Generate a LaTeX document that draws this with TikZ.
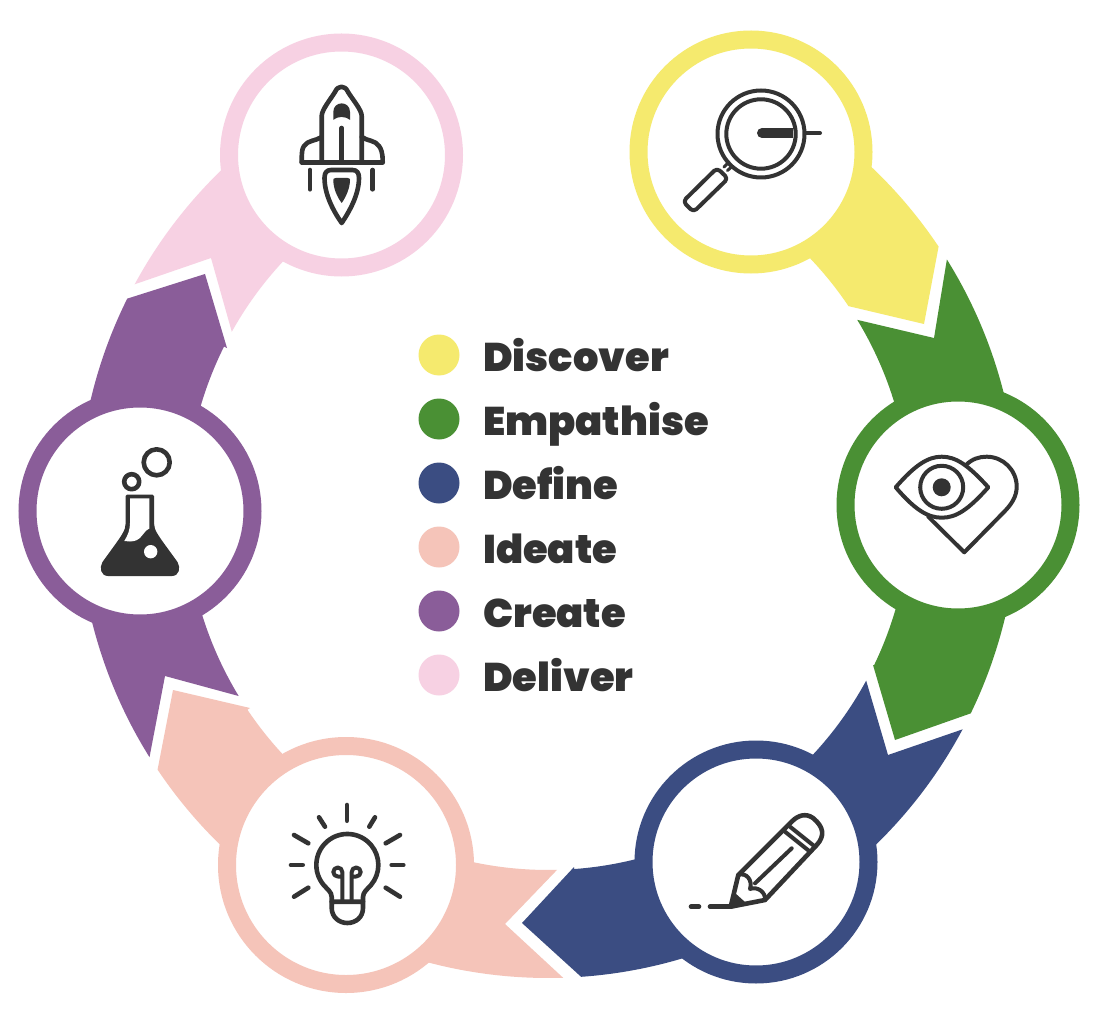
\documentclass[tikz,border=0pt]{standalone}
\usepackage{fontspec}
\setmainfont{Poppins}[BoldFont={Poppins Black}]
\definecolor{cyel}{HTML}{F5EA6E}
\definecolor{cgrn}{HTML}{4A9034}
\definecolor{cblu}{HTML}{3B4D82}
\definecolor{cpea}{HTML}{F5C4B9}
\definecolor{cpur}{HTML}{8A5D99}
\definecolor{cpin}{HTML}{F7D1E3}
\definecolor{ink}{HTML}{333333}
\tikzset{
  ringdisc/.style={circle,draw=#1,line width=18pt,fill=white,minimum size=225pt,inner sep=0pt,outer sep=0pt},
  legdot/.style={circle,fill=#1,minimum size=41pt,inner sep=0pt,outer sep=0pt},
  legtext/.style={anchor=base west,inner sep=0pt,text=ink,font=\fontsize{40}{40}\selectfont\bfseries},
  icon/.style={draw=ink,line width=4.6pt,line cap=round,line join=round},
  thinicon/.style={draw=ink,line width=4pt,line cap=round,line join=round},
  iconfill/.style={fill=ink,draw=none}
}
\def\ptang(#1,#2)#3{\pgfmathsetmacro#3{atan2(#2-508,#1-548)}}
\newcommand\ringseg[7]{\ptang#2\oa \ptang#3\ob \ptang#5\ia \ptang#6\ib
  \fill[#1] ([shift={(\oa:470)}]c) arc[start angle=\oa,end angle=\ob,radius=470] -- #4 -- ([shift={(\ia:362)}]c) arc[start angle=\ia,end angle=\ib,radius=362] #7 -- cycle;}
\begin{document}
\begin{tikzpicture}[x=1pt,y=-1pt]
\useasboundingbox (0,0) rectangle (1100,1024);
\fill[white] (0,0) rectangle (1100,1024);
\coordinate (c) at (548,508);
% ring segments
\ringseg{cyel}{(862,160)}{(938,247)}{(924,324)--(848,306)}{(848,306)}{(800,248)}{}
\ringseg{cgrn}{(946,260)}{(1010,410)}{(950,420)}{(895,415)}{(857,320)}{--(934,338)}
\ringseg{cgrn}{(1010,600)}{(970,713)}{(895,740)--(873,665)}{(873,665)}{(895,600)}{}
\ringseg{cblu}{(962,729)}{(870,850)}{(830,800)}{(800,745)}{(865,680)}{--(888,755)}
\ringseg{cblu}{(700,950)}{(581,975)}{(522,923)--(574,867)}{(574,867)}{(650,853)}{}
\ringseg{cpea}{(563,975)}{(415,955)}{(440,900)}{(465,858)}{(557,868)}{--(505,924)}
\ringseg{cpea}{(230,850)}{(160,768)}{(173,690)--(250,708)}{(250,708)}{(295,760)}{}
\ringseg{cpur}{(153,755)}{(90,605)}{(150,600)}{(200,600)}{(242,694)}{--(165,676)}
\ringseg{cpur}{(88,415)}{(130,300)}{(205,274)--(227,348)}{(227,348)}{(200,420)}{}
\ringseg{cpin}{(136,285)}{(230,160)}{(270,220)}{(295,250)}{(234,333)}{--(211,258)}
% discs
\node[ringdisc=cyel] (discover) at (751,152) {};
\node[ringdisc=cgrn] (empathise) at (958,505) {};
\node[ringdisc=cblu] (define) at (756,862) {};
\node[ringdisc=cpea,minimum size=238pt] (ideate) at (346,865) {};
\node[ringdisc=cpur] (create) at (140,511) {};
\node[ringdisc=cpin] (deliver) at (341.5,155) {};
% legend
\node[legdot=cyel] (d1) at (439,355) {};
\node[legdot=cgrn] (d2) at (439,419) {};
\node[legdot=cblu] (d3) at (439,483) {};
\node[legdot=cpea] (d4) at (439,547) {};
\node[legdot=cpur] (d5) at (439,611) {};
\node[legdot=cpin] (d6) at (439,675) {};
\node[legtext] (t1) at (483,371) {Discover};
\node[legtext] (t2) at (483,435) {Empathise};
\node[legtext] (t3) at (483,499) {Define};
\node[legtext] (t4) at (483,563) {Ideate};
\node[legtext] (t5) at (483,627) {Create};
\node[legtext] (t6) at (483,691) {Deliver};
% magnifier
\draw[thinicon] (761,134) circle[radius=43.5];
\draw[thinicon] (761,134) circle[radius=34.7];
\draw[thinicon,line width=10pt,line cap=butt] (762,133) -- (793,133);
\fill[ink] (762,133) circle[radius=5];
\draw[thinicon] (805,133) -- (820,133);
\draw[thinicon,rounded corners=4pt] (717,168) -- (728,178.5) -- (693.5,212) -- (683,201.5) -- cycle;
\draw[thinicon,line width=3pt] (724,167) -- (729,162);
\draw[thinicon,line width=3pt] (727.5,170.5) -- (732,166.5);
% eye + heart
\draw[thinicon] (895.7,487.3) .. controls (915,465) and (928,456.7) .. (941.7,456.7) .. controls (956,456.7) and (968,465) .. (988.3,487.3) .. controls (968,510) and (956,517.7) .. (941.7,517.7) .. controls (928,517.7) and (915,510) .. cycle;
\draw[thinicon] (941.7,487.3) circle[radius=21.5];
\fill[ink] (941.7,487.3) circle[radius=9];
\draw[thinicon] (966,465) .. controls (972,459) and (979,456.7) .. (986.7,456.7) .. controls (1003,456.7) and (1016.7,470) .. (1016.7,486.7) .. controls (1016.7,497) and (1011,505) .. (1003,513) -- (964.3,552.3) -- (928.3,516.7);
% pencil
\draw[icon] (730.7,906.7) -- (738.3,875) -- (791.7,821.7) .. controls (798,815) and (806,813) .. (813,818) .. controls (824,827) and (825,836) .. (816.7,845) -- (765,900) -- cycle;
\draw[thinicon] (785,831.7) -- (810,851.7);
\draw[thinicon] (790,826.7) -- (815,846.7);
\draw[thinicon] (791.7,848.3) -- (755,883.3);
\draw[thinicon] (738.3,875) .. controls (746,872) and (753,880) .. (750,889) .. controls (757,886) and (766,892) .. (765,900);
\fill[ink] (729.5,908) -- (735,893) -- (745,902) -- cycle;
\draw[icon] (710,906.7) -- (730.7,906.7);
\draw[icon] (691,906.7) -- (699,906.7);
% bulb
\draw[icon] (331.7,901.7) -- (331.7,897) .. controls (331.7,892) and (327,889) .. (323.6,884.9) arc[start angle=140,end angle=400,radius=31] .. controls (367.6,889) and (363,892) .. (363,897) -- (363,901.7);
\draw[icon] (331.7,901.7) -- (363,901.7) -- (363,908) .. controls (363,917) and (356,923) .. (347.3,923) .. controls (339,923) and (331.7,917) .. (331.7,908) -- cycle;
\draw[thinicon] (342.3,901) -- (342.3,872) arc[start angle=0,end angle=-270,radius=4.5] -- (342.3,876.5);
\draw[thinicon] (351.7,901) -- (351.7,872) arc[start angle=180,end angle=450,radius=4.5] -- (351.7,876.5);
\draw[icon] (347,805) -- (347,820.7);
\draw[icon] (291,865) -- (302.7,865);
\draw[icon] (391.7,865) -- (403.3,865);
\draw[icon] (319,817.3) -- (325,826.7);
\draw[icon] (375,817.3) -- (369.3,826.7);
\draw[icon] (294,835) -- (308.3,843.3);
\draw[icon] (400,835) -- (385.7,843.3);
\draw[icon] (294,896.7) -- (308.3,887.7);
\draw[icon] (400,896.7) -- (385.7,887.7);
% flask
\draw[icon] (156.7,462.3) circle[radius=13];
\draw[icon] (131.7,481.7) circle[radius=7.5];
\fill[ink] (127,494.5) -- (152.5,494.5) .. controls (153.5,494.5) and (154,495) .. (154,496) -- (154,523) .. controls (154,531) and (158,535) .. (177.5,562) .. controls (181,568) and (179,576) .. (172,576) -- (108,576) .. controls (101,576) and (99,568) .. (102.5,562) .. controls (122,535) and (125.7,531) .. (125.7,523) -- (125.7,496) .. controls (125.7,495) and (126,494.5) .. cycle;
\fill[white] (130,498.3) -- (149.4,498.3) -- (149.4,528.5) .. controls (142,532) and (142,541.5) .. (130,541.5) -- (124.3,541) .. controls (128,535) and (130,530) .. (130,523) -- cycle;
\fill[white] (150.7,551.7) circle[radius=6.7];
% rocket
\draw[icon] (301.7,162.3) -- (382.7,162.3);
\draw[icon] (321.7,162) -- (321.7,116) .. controls (321.7,110) and (330,100) .. (335,92) .. controls (338,85) and (345,85) .. (348,92) .. controls (353,100) and (361.7,110) .. (361.7,116) -- (361.7,162);
\draw[icon] (321.7,137) .. controls (316,141) and (308,140) .. (304,146) .. controls (302,149) and (301.7,152) .. (301.7,162);
\draw[icon] (361.7,137) .. controls (367,141) and (375,140) .. (379,146) .. controls (381,149) and (382.7,152) .. (382.7,162);
\draw[icon] (341.7,128) -- (341.7,162);
\fill[ink] (333.3,119.8) -- (333.3,112) .. controls (333.3,100.5) and (350,100.5) .. (350,112) -- (350,119.8) .. controls (345,116) and (338,116) .. cycle;
\draw[icon] (310,170) -- (310,189.3);
\draw[icon] (372.7,170) -- (372.7,189.3);
\draw[icon] (331,170) -- (352.5,170) .. controls (357,170) and (359,173) .. (359,178) .. controls (359,195) and (349,212) .. (341.7,223) .. controls (334,212) and (324.5,195) .. (324.5,178) .. controls (324.5,173) and (326.5,170) .. cycle;
\fill[ink] (333.3,180) .. controls (333,179) and (334,178) .. (336,178) -- (347.5,178) .. controls (349.5,178) and (350.3,179) .. (350,180) .. controls (350,188) and (346,197) .. (341.7,203) .. controls (337,197) and (333.3,188) .. cycle;
\end{tikzpicture}
\end{document}
